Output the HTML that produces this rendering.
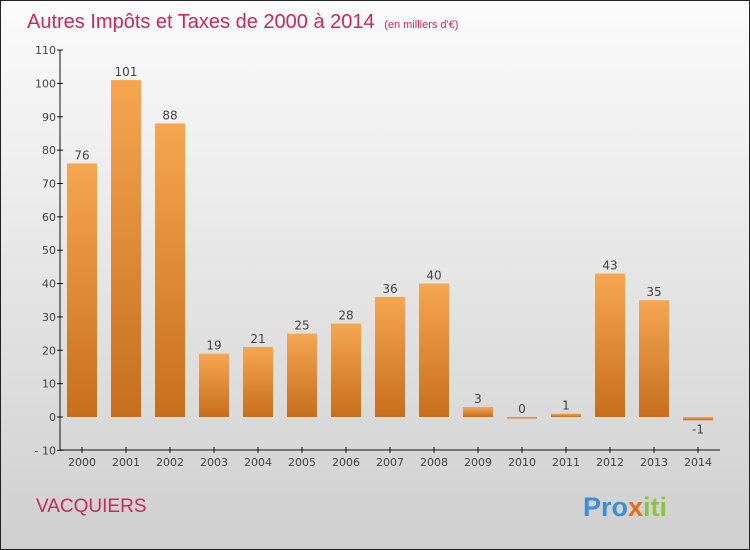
<!DOCTYPE html>
<html><head><meta charset="utf-8"><style>
body{margin:0;}
#c{width:750px;height:550px;position:relative;box-sizing:border-box;border:1px solid #222;background:linear-gradient(#fbfbfb,#cfcfcf);font-family:"DejaVu Sans","Liberation Sans",sans-serif;overflow:hidden}
</style></head><body>
<div id="c">
<svg id="s" width="750" height="550" style="position:absolute;left:-1px;top:-1px">
<defs><linearGradient id="g" x1="0" y1="0" x2="0" y2="1"><stop offset="0" stop-color="#f6a650"/><stop offset="1" stop-color="#c66e1c"/></linearGradient></defs>
<text x="27" y="28" font-size="20" fill="#c8285e" font-family="Liberation Sans,sans-serif">Autres Impôts et Taxes de 2000 à 2014 <tspan font-size="11" dx="4">(en milliers d'€)</tspan></text>
<text x="36" y="512" font-size="19" fill="#c8285e" font-family="Liberation Sans,sans-serif">VACQUIERS</text>
<text x="583" y="516" font-size="27" font-weight="bold" font-family="Liberation Sans,sans-serif"><tspan fill="#3a8fd6">Pro</tspan><tspan fill="#e86a1a">x</tspan><tspan fill="#8bc43f">iti</tspan></text>
<g id="plot"></g>
</svg>
</div>
<script>
const years=["2000","2001","2002","2003","2004","2005","2006","2007","2008","2009","2010","2011","2012","2013","2014"];
const values=[76,101,88,19,21,25,28,36,40,3,0,1,43,35,-1];
const yTicks=[-10,0,10,20,30,40,50,60,70,80,90,100,110];
const NS="http://www.w3.org/2000/svg";
const g=document.getElementById('plot');
const y=v=>417-v*3.336;
const x=i=>82+i*44;
function mk(t,a){const e=document.createElementNS(NS,t);for(const k in a)e.setAttribute(k,a[k]);g.appendChild(e);return e;}
let ax=mk('line',{x1:60,y1:y(110),x2:60,y2:450,stroke:'#111'});

let bx=mk('line',{x1:60,y1:450,x2:720,y2:450,stroke:'#111'});

yTicks.forEach(v=>{
 mk('line',{x1:57,y1:y(v),x2:63,y2:y(v),stroke:'#111'});
 const t=mk('text',{x:56,y:y(v)+4,'text-anchor':'end','font-size':11,fill:'#444'});
 t.textContent=v<0?'- '+(-v):v;
 
 
});
years.forEach((yr,i)=>{
 const v=values[i];
 mk('line',{x1:x(i),y1:447,x2:x(i),y2:453,stroke:'#111'});
 const tl=mk('text',{x:x(i),y:466,'text-anchor':'middle','font-size':11,fill:'#444'});
 tl.textContent=yr;
 
 
 const top=Math.min(y(v),y(0)),h=Math.max(Math.abs(y(v)-y(0)),1.5);
 const r=mk('rect',{x:x(i)-15,y:top,width:30,height:h,fill:'url(#g)'});
 
 
 const lt=mk('text',{x:x(i),y:v<0?y(v)+13:y(v)-4,'text-anchor':'middle','font-size':12,fill:'#444'});
 lt.textContent=v;
 
 
});
</script>
</body></html>
